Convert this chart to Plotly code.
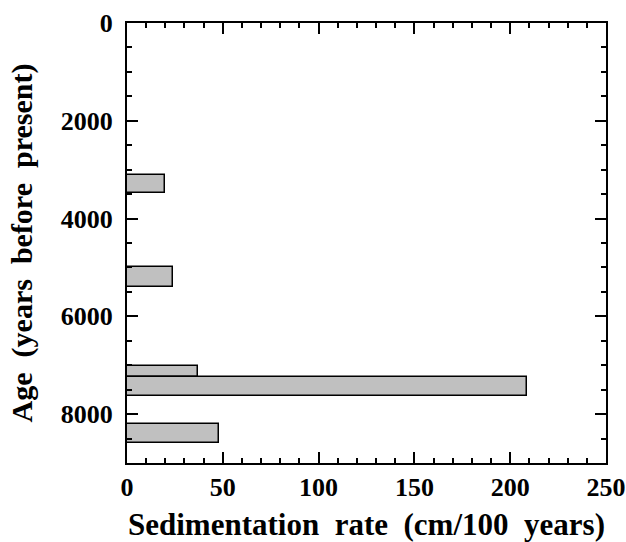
import plotly.graph_objects as go

# Sedimentation rate per dated core interval
age_top = [3100, 4990, 7020, 7245, 8210]       # years before present
age_bottom = [3480, 5390, 7245, 7635, 8595]    # years before present
rate = [20, 24, 37.3, 209, 48]                 # cm / 100 years

x_ticks = [0, 50, 100, 150, 200, 250]
y_ticks = [0, 2000, 4000, 6000, 8000]

centers = [(a + b) / 2 for a, b in zip(age_top, age_bottom)]
widths = [b - a for a, b in zip(age_top, age_bottom)]

FONT = "Liberation Serif"
NB = "\u00a0\u00a0"  # wide word spacing in axis titles

fig = go.Figure(
    go.Bar(
        x=rate,
        y=centers,
        width=widths,
        orientation="h",
        marker=dict(color="#c0c0c0", line=dict(color="black", width=1.5)),
    )
)

axis_common = dict(
    showgrid=False,
    zeroline=False,
    showline=True,
    linecolor="black",
    linewidth=2,
    mirror="ticks",
    ticks="inside",
    ticklen=11,
    tickwidth=2,
    tickcolor="black",
    automargin=False,
    tickfont=dict(family=FONT, size=26, color="black", weight="bold"),
)

fig.update_xaxes(
    **axis_common,
    range=[0, 250],
    tickvals=x_ticks,
    ticktext=[str(v) for v in x_ticks],
    minor=dict(dtick=10, ticks="inside", ticklen=5, tickwidth=2, tickcolor="black"),
    title=dict(
        text=NB.join(["Sedimentation", "rate", "(cm/100", "years)"]),
        font=dict(family=FONT, size=31, color="black", weight="bold"),
        standoff=15,
    ),
)
fig.update_yaxes(
    **axis_common,
    range=[9000, 0],
    tickvals=y_ticks,
    ticktext=[str(v) for v in y_ticks],
    ticklabelstandoff=7,
    minor=dict(dtick=500, ticks="inside", ticklen=5, tickwidth=2, tickcolor="black"),
    title=dict(
        text=NB.join(["Age", "(years", "before", "present)"]),
        font=dict(family=FONT, size=30, color="black", weight="bold"),
        standoff=19,
    ),
)

fig.update_layout(
    width=626,
    height=542,
    margin=dict(l=127, r=20, t=23, b=79),
    plot_bgcolor="white",
    paper_bgcolor="white",
    showlegend=False,
    bargap=0,
)

fig.write_html("out.html")
